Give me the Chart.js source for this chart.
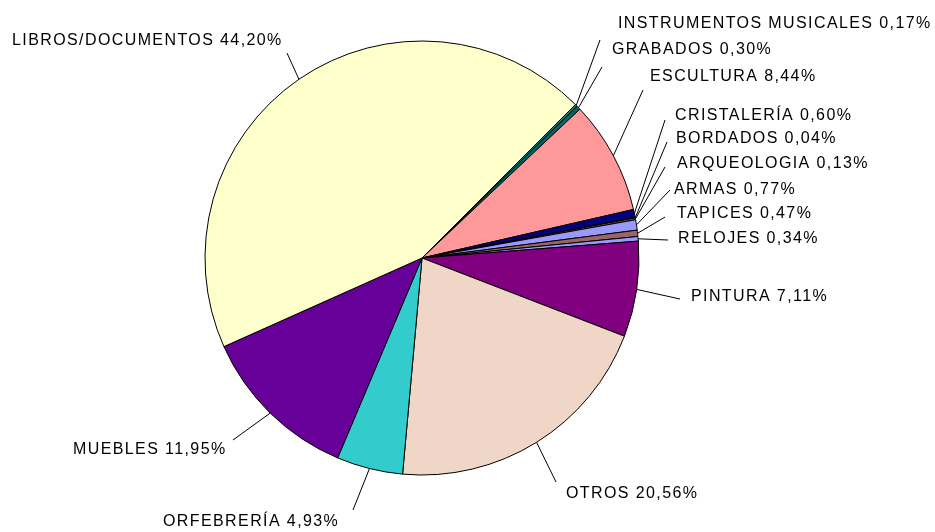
<!DOCTYPE html>
<html>
<head>
<meta charset="utf-8">
<script src="https://cdn.jsdelivr.net/npm/chart.js@4/dist/chart.umd.min.js"></script>
<style>
  html, body { margin: 0; padding: 0; background: #fff; }
  #wrap { width: 935px; height: 532px; position: relative; }
</style>
</head>
<body>
<div id="wrap"><canvas id="pieChart"></canvas></div>
<script>
// Data (clockwise from the top-right, as in the original)
const categories = [
    'INSTRUMENTOS MUSICALES', 'GRABADOS', 'ESCULTURA', 'CRISTALERÍA', 'BORDADOS',
    'ARQUEOLOGIA', 'ARMAS', 'TAPICES', 'RELOJES', 'PINTURA', 'OTROS',
    'ORFEBRERÍA', 'MUEBLES', 'LIBROS/DOCUMENTOS'
];
const percentages = [0.17, 0.30, 8.44, 0.60, 0.04, 0.13, 0.77, 0.47, 0.34, 7.11, 20.56, 4.93, 11.95, 44.20];
const sliceColors = [
    '#008080', '#006666', '#FF9999', '#000080', '#000000',
    '#996666', '#9999FF', '#996666', '#9999FF', '#800080', '#F0D6C6',
    '#33CCCC', '#660099', '#FFFFCC'
];

// Label layout: text x, text y (middle), leader line start x, y
const labelLayout = [
    [618, 24, 600, 40],
    [612, 50, 602, 67],
    [650, 77, 643, 90],
    [675, 116, 665, 120],
    [676, 139, 667, 142],
    [677, 164, 665, 167],
    [674, 190, 670, 190],
    [677, 214, 665, 217],
    [678, 239, 668, 240],
    [691, 297, 680, 299],
    [566, 494, 556, 482],
    [163, 522, 353, 510],
    [73, 450, 233, 440],
    [12, 41, 287, 53]
];

function formatPct(v) {
    return v.toFixed(2).replace('.', ',') + '%';
}

const labelPlugin = {
    id: 'leaderLabels',
    afterDraw(chart) {
        const ctx = chart.ctx;
        const arcs = chart.getDatasetMeta(0).data;
        ctx.save();
        ctx.strokeStyle = '#000';
        ctx.lineWidth = 1;
        arcs.forEach((arc, i) => {
            const mid = (arc.startAngle + arc.endAngle) / 2;
            const ex = arc.x + arc.outerRadius * Math.cos(mid);
            const ey = arc.y + arc.outerRadius * Math.sin(mid);
            const lay = labelLayout[i];
            ctx.beginPath();
            ctx.moveTo(lay[2], lay[3]);
            ctx.lineTo(ex, ey);
            ctx.stroke();
        });
        ctx.fillStyle = '#000';
        ctx.font = '16px "Liberation Sans", Arial, sans-serif';
        ctx.textBaseline = 'middle';
        ctx.textAlign = 'left';
        if ('letterSpacing' in ctx) ctx.letterSpacing = '1.4px';
        categories.forEach((name, i) => {
            const lay = labelLayout[i];
            ctx.fillText(name + ' ' + formatPct(percentages[i]), lay[0], lay[1]);
        });
        ctx.restore();
    }
};

const ctx = document.getElementById('pieChart').getContext('2d');
const chart = new Chart(ctx, {
    type: 'pie',
    data: {
        labels: categories,
        datasets: [{
            data: percentages,
            backgroundColor: sliceColors,
            borderColor: '#000',
            borderWidth: 1,
            borderAlign: 'center'
        }]
    },
    options: {
        responsive: true,
        maintainAspectRatio: false,
        animation: false,
        rotation: 45,
        radius: 217,
        layout: { padding: { left: 150, right: 241, top: 20, bottom: 36 } },
        plugins: {
            legend: { display: false },
            tooltip: { enabled: false }
        }
    },
    plugins: [labelPlugin]
});
</script>
</body>
</html>
